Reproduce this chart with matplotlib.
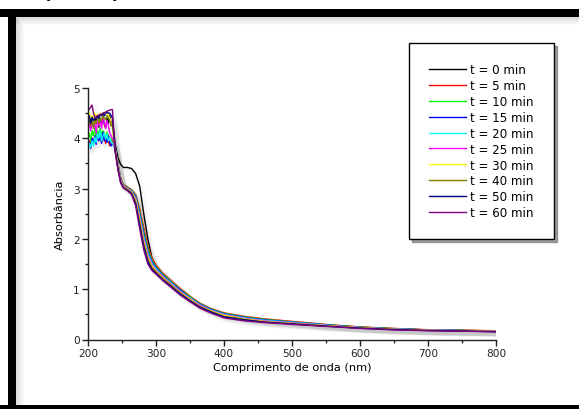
import matplotlib
matplotlib.use("Agg")
import matplotlib.pyplot as plt
from matplotlib.patches import Rectangle
from matplotlib.ticker import MultipleLocator
import matplotlib.transforms as mtransforms

# wavelength grid (nm)
wl = [200, 202, 204, 206, 208, 210, 212, 214, 216, 218, 220, 222, 224, 226, 228, 230, 232, 234, 236, 238,
      240, 244, 248, 252, 258, 264, 270, 276, 282, 288, 294, 300,
      310, 320, 335, 350, 365, 380, 400, 430, 460, 500, 550, 600, 650, 700, 750, 800]

# absorbance for each time
t0 = [4.30, 4.35, 4.20, 4.40, 4.25, 4.45, 4.30, 4.38, 4.22, 4.40, 4.30, 4.42, 4.28, 4.20, 4.40, 4.30, 4.45, 4.25, 4.35, 4.15,
      3.88, 3.62, 3.48, 3.42, 3.42, 3.40, 3.30, 3.05, 2.50, 2.00, 1.62, 1.44,
      1.30, 1.18, 1.00, 0.84, 0.70, 0.60, 0.51, 0.44, 0.39, 0.35, 0.29, 0.245, 0.215, 0.19, 0.18, 0.17]
t5 = [3.80, 3.95, 3.85, 4.00, 3.90, 4.05, 3.95, 4.10, 3.98, 4.05, 3.92, 4.10, 4.00, 3.90, 4.05, 3.95, 3.85, 3.95, 3.90, 3.85,
      3.80, 3.50, 3.22, 3.08, 3.03, 2.98, 2.88, 2.60, 2.22, 1.85, 1.62, 1.48,
      1.32, 1.20, 1.02, 0.86, 0.72, 0.62, 0.53, 0.46, 0.41, 0.36, 0.30, 0.25, 0.22, 0.195, 0.185, 0.175]
t10 = [4.00, 4.10, 3.95, 4.15, 4.05, 4.20, 4.00, 4.15, 4.10, 4.20, 4.05, 4.15, 4.10, 4.00, 4.12, 4.05, 3.98, 4.00, 3.95, 3.88,
       3.80, 3.48, 3.20, 3.07, 3.02, 2.97, 2.86, 2.55, 2.15, 1.80, 1.58, 1.45,
       1.30, 1.18, 1.00, 0.85, 0.71, 0.61, 0.52, 0.45, 0.40, 0.35, 0.295, 0.245, 0.215, 0.19, 0.18, 0.17]
t15 = [3.85, 3.92, 3.80, 4.00, 3.90, 4.05, 3.88, 4.10, 3.95, 4.08, 3.90, 4.12, 3.95, 4.00, 3.92, 4.05, 3.90, 3.85, 3.90, 3.85,
       3.78, 3.47, 3.19, 3.06, 3.01, 2.96, 2.84, 2.50, 2.10, 1.75, 1.55, 1.43,
       1.28, 1.16, 0.99, 0.83, 0.70, 0.60, 0.51, 0.44, 0.39, 0.345, 0.29, 0.24, 0.21, 0.19, 0.178, 0.168]
t20 = [3.78, 3.90, 3.82, 3.95, 3.85, 4.02, 3.92, 4.10, 4.00, 4.15, 3.95, 4.05, 4.10, 3.98, 4.08, 3.95, 4.00, 3.92, 3.90, 3.85,
       3.78, 3.46, 3.18, 3.05, 3.00, 2.95, 2.82, 2.46, 2.05, 1.71, 1.52, 1.41,
       1.26, 1.15, 0.97, 0.82, 0.69, 0.59, 0.50, 0.43, 0.38, 0.34, 0.285, 0.238, 0.208, 0.188, 0.176, 0.165]
t25 = [4.20, 4.30, 4.15, 4.35, 4.20, 4.30, 4.10, 4.38, 4.25, 4.35, 4.20, 4.45, 4.30, 4.20, 4.35, 4.25, 4.10, 4.05, 4.00, 3.90,
       3.77, 3.45, 3.17, 3.05, 3.00, 2.94, 2.80, 2.42, 2.00, 1.67, 1.49, 1.38,
       1.25, 1.13, 0.96, 0.81, 0.68, 0.58, 0.49, 0.42, 0.37, 0.33, 0.28, 0.235, 0.205, 0.185, 0.174, 0.163]
t30 = [4.40, 4.50, 4.35, 4.45, 4.30, 4.50, 4.40, 4.48, 4.42, 4.50, 4.45, 4.50, 4.48, 4.52, 4.50, 4.45, 4.40, 4.30, 4.20, 3.95,
       3.77, 3.44, 3.16, 3.04, 2.99, 2.93, 2.77, 2.37, 1.95, 1.63, 1.46, 1.36,
       1.23, 1.11, 0.94, 0.80, 0.66, 0.57, 0.48, 0.41, 0.36, 0.32, 0.275, 0.232, 0.202, 0.183, 0.172, 0.16]
t40 = [4.30, 4.40, 4.25, 4.38, 4.20, 4.35, 4.30, 4.42, 4.30, 4.40, 4.35, 4.45, 4.40, 4.38, 4.45, 4.40, 4.35, 4.25, 4.30, 4.00,
       3.76, 3.42, 3.15, 3.03, 2.98, 2.92, 2.74, 2.32, 1.90, 1.59, 1.43, 1.34,
       1.21, 1.10, 0.93, 0.78, 0.65, 0.56, 0.46, 0.40, 0.35, 0.315, 0.27, 0.23, 0.20, 0.18, 0.17, 0.158]
t50 = [4.40, 4.45, 4.30, 4.42, 4.35, 4.40, 4.38, 4.45, 4.40, 4.48, 4.45, 4.50, 4.45, 4.50, 4.52, 4.50, 4.50, 4.45, 4.40, 4.05,
       3.75, 3.40, 3.13, 3.02, 2.97, 2.90, 2.70, 2.27, 1.85, 1.55, 1.40, 1.32,
       1.19, 1.08, 0.91, 0.77, 0.64, 0.55, 0.45, 0.39, 0.345, 0.31, 0.265, 0.225, 0.197, 0.178, 0.168, 0.155]
t60 = [4.55, 4.58, 4.62, 4.66, 4.50, 4.42, 4.43, 4.45, 4.46, 4.47, 4.48, 4.50, 4.51, 4.52, 4.54, 4.55, 4.56, 4.57, 4.57, 4.10,
       3.72, 3.37, 3.11, 3.01, 2.96, 2.88, 2.66, 2.20, 1.78, 1.50, 1.37, 1.30,
       1.17, 1.06, 0.89, 0.75, 0.62, 0.53, 0.43, 0.37, 0.335, 0.30, 0.26, 0.22, 0.19, 0.175, 0.165, 0.152]

series = [t0, t5, t10, t15, t20, t25, t30, t40, t50, t60]
labels = ['t = 0 min', 't = 5 min', 't = 10 min', 't = 15 min', 't = 20 min',
          't = 25 min', 't = 30 min', 't = 40 min', 't = 50 min', 't = 60 min']
colors = ['black', '#ff0000', '#00ff00', '#0000ff', '#00ffff',
          '#ff00ff', '#ffff00', '#808000', '#000080', '#800080']

fig = plt.figure(figsize=(5.79, 4.10), dpi=100)
W, H = 579, 410
ax = fig.add_axes([88 / W, 1 - 340.5 / H, (496 - 88) / W, (340.5 - 89) / H])

# light drop shadow under all curves
shift = ax.transData + mtransforms.ScaledTranslation(3 / 100, -3 / 100, fig.dpi_scale_trans)
for y in series:
    ax.plot(wl, y, color='gray', lw=3, alpha=0.05, zorder=1, transform=shift)
lines = []
for y, lab, c in zip(series, labels, colors):
    lines += ax.plot(wl, y, color=c, lw=1.0, label=lab, zorder=2)

ax.set_xlim(200, 800)
ax.set_ylim(0, 5)
ax.xaxis.set_major_locator(MultipleLocator(100))
ax.xaxis.set_minor_locator(MultipleLocator(50))
ax.yaxis.set_major_locator(MultipleLocator(1))
ax.yaxis.set_minor_locator(MultipleLocator(0.5))
for s in ['top', 'right']:
    ax.spines[s].set_visible(False)
for s in ['left', 'bottom']:
    ax.spines[s].set_color('#222222')
    ax.spines[s].set_linewidth(1.0)
ax.tick_params(which='major', direction='out', length=4, width=1, labelsize=7.6, pad=2, colors='#222222')
ax.tick_params(which='minor', direction='out', length=2.5, width=1, colors='#222222')

ax.set_xlabel('Comprimento de onda (nm)', fontsize=8.2, labelpad=3)
ax.set_ylabel('Absorbância', fontsize=8.2, labelpad=6)

leg = ax.legend(lines, labels, loc='upper left', bbox_to_anchor=(409 / W, 1 - 44 / H),
                bbox_transform=fig.transFigure,
                fontsize=8.6, frameon=True, fancybox=False, shadow=True, edgecolor='black',
                handlelength=3.1, handletextpad=0.3, labelspacing=0.24, borderpad=1.7,
                borderaxespad=0)
leg.get_frame().set_linewidth(1.0)

# black picture frame
frame = dict(transform=fig.transFigure, facecolor='black', edgecolor='none', zorder=10)
fig.patches.append(Rectangle((0, 1 - 17.5 / H), 1, 7.5 / H, **frame))
fig.patches.append(Rectangle((8 / W, 0), 7.5 / W, 1 - 10 / H, **frame))
fig.patches.append(Rectangle((0, 0), 1, 4.5 / H, **frame))

# soft inner shadow of the frame
for i in range(8):
    a = 0.14 * (1 - i / 8)
    fig.patches.append(Rectangle((15.5 / W, 1 - (18.5 + i) / H), 1, 1 / H, transform=fig.transFigure,
                                 facecolor='black', alpha=a, edgecolor='none', zorder=9))
    fig.patches.append(Rectangle(((15.5 + i) / W, 4.5 / H), 1 / W, 1 - (23 + i) / H, transform=fig.transFigure,
                                 facecolor='black', alpha=a, edgecolor='none', zorder=9))

# caption cut off by the top edge, as in the reference
fig.text(46 / W, 1 + 2 / H, 'p', fontsize=11, fontweight='bold', va='baseline')
fig.text(109 / W, 1 + 2 / H, 'ç', fontsize=11, fontweight='bold', va='baseline')

fig.savefig('out.png', dpi=100, facecolor='white')
